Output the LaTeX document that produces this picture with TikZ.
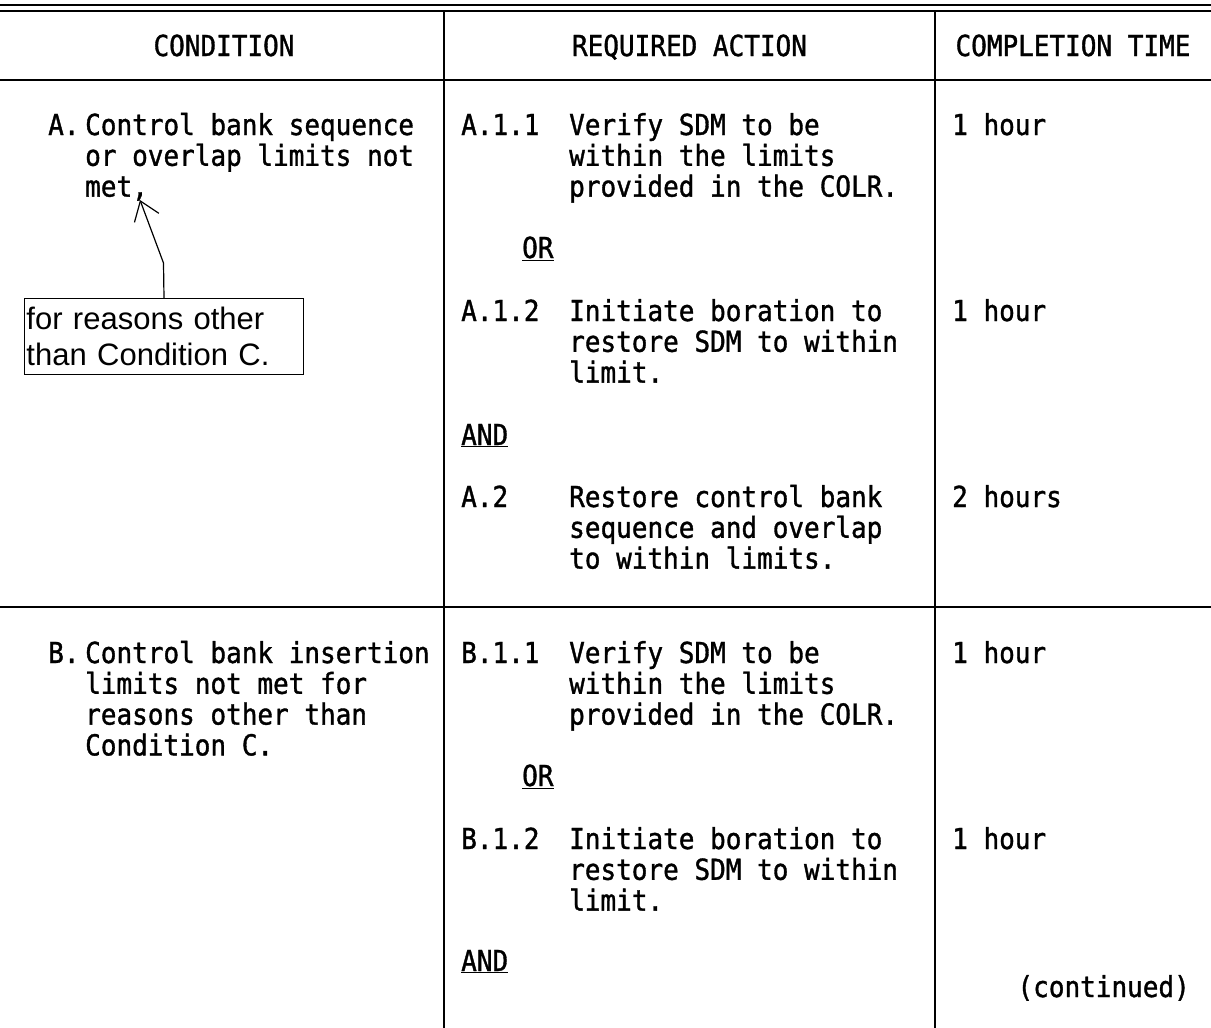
\documentclass[tikz,border=0pt]{standalone}
\usepackage{fontspec}
\newfontfamily\monof[FakeStretch=0.9,FakeBold=1.2]{DejaVu Sans Mono}
\newfontfamily\callf{Liberation Sans}
\usetikzlibrary{arrows.meta}
\newcommand\celllines[1]{\vtop{\let\\\cr\halign{##\hfil\cr#1\crcr}}}
\begin{document}
\begin{tikzpicture}[x=1pt,y=-1pt,
  txt/.style={anchor=base west, inner sep=0pt, font=\monof\fontsize{28.9}{30.8}\selectfont},
  hdr/.style={anchor=base, inner sep=0pt, font=\monof\fontsize{28.9}{30.8}\selectfont},
  rt/.style={anchor=base east, inner sep=0pt, font=\monof\fontsize{28.9}{30.8}\selectfont},
  hrule/.style={line width=2pt},
  vrule/.style={line width=1.6pt},
  callout/.style={draw, line width=1pt, anchor=north west, inner sep=0pt, minimum width=279pt, minimum height=76pt, align=left, text width=275pt, font=\callf\fontsize{31}{35.5}\selectfont},
  pointer/.style={line width=1.2pt, -{Straight Barb[length=18pt,width=26pt,line width=1.2pt]}}]
\useasboundingbox (0,0) rectangle (1211,1028);
\fill[white] (0,0) rectangle (1211,1028);
% table rules
\draw[hrule] (0,5) -- (1211,5);
\draw[hrule] (0,11) -- (1211,11);
\draw[hrule] (0,80) -- (1211,80);
\draw[hrule] (0,607) -- (1211,607);
\draw[vrule] (444,11) -- (444,1028);
\draw[vrule] (935,11) -- (935,1028);
% headers
\node[hdr] (h1) at (224,56) {CONDITION};
\node[hdr] (h2) at (689.5,56) {REQUIRED ACTION};
\node[hdr] (h3) at (1073,56) {COMPLETION TIME};
% condition A
\node[txt] (al) at (48,135) {A.};
\node[txt] (at) at (85,135) {\celllines{Control bank sequence\\or overlap limits not\\met,}};
\coordinate (tip) at (140,200);
\node[callout] (box) at (24,298) {\rule{0pt}{22pt}for reasons other\\than Condition C.};
\coordinate (bend) at (163.5,263);
\draw[pointer] (box.north) -- (bend) -- (tip);
% actions A
\node[txt] (a11l) at (461,135) {A.1.1};
\node[txt] (a11t) at (569,135) {\celllines{Verify SDM to be\\within the limits\\provided in the COLR.}};
\node[txt] (a11c) at (952,135) {1 hour};
\node[txt] (aor) at (522,258) {\underline{OR}};
\node[txt] (a12l) at (461,321) {A.1.2};
\node[txt] (a12t) at (569,321) {\celllines{Initiate boration to\\restore SDM to within\\limit.}};
\node[txt] (a12c) at (952,321) {1 hour};
\node[txt] (aand) at (461,445) {\underline{AND}};
\node[txt] (a2l) at (461,507) {A.2};
\node[txt] (a2t) at (569,507) {\celllines{Restore control bank\\sequence and overlap\\to within limits.}};
\node[txt] (a2c) at (952,507) {2 hours};
% condition B
\node[txt] (bl) at (48,663) {B.};
\node[txt] (bt) at (85,663) {\celllines{Control bank insertion\\limits not met for\\reasons other than\\Condition C.}};
\node[txt] (b11l) at (461,663) {B.1.1};
\node[txt] (b11t) at (569,663) {\celllines{Verify SDM to be\\within the limits\\provided in the COLR.}};
\node[txt] (b11c) at (952,663) {1 hour};
\node[txt] (bor) at (522,786) {\underline{OR}};
\node[txt] (b12l) at (461,849) {B.1.2};
\node[txt] (b12t) at (569,849) {\celllines{Initiate boration to\\restore SDM to within\\limit.}};
\node[txt] (b12c) at (952,849) {1 hour};
\node[txt] (band) at (461,971) {\underline{AND}};
\node[rt] (cont) at (1190,997) {(continued)};
\end{tikzpicture}
\end{document}
